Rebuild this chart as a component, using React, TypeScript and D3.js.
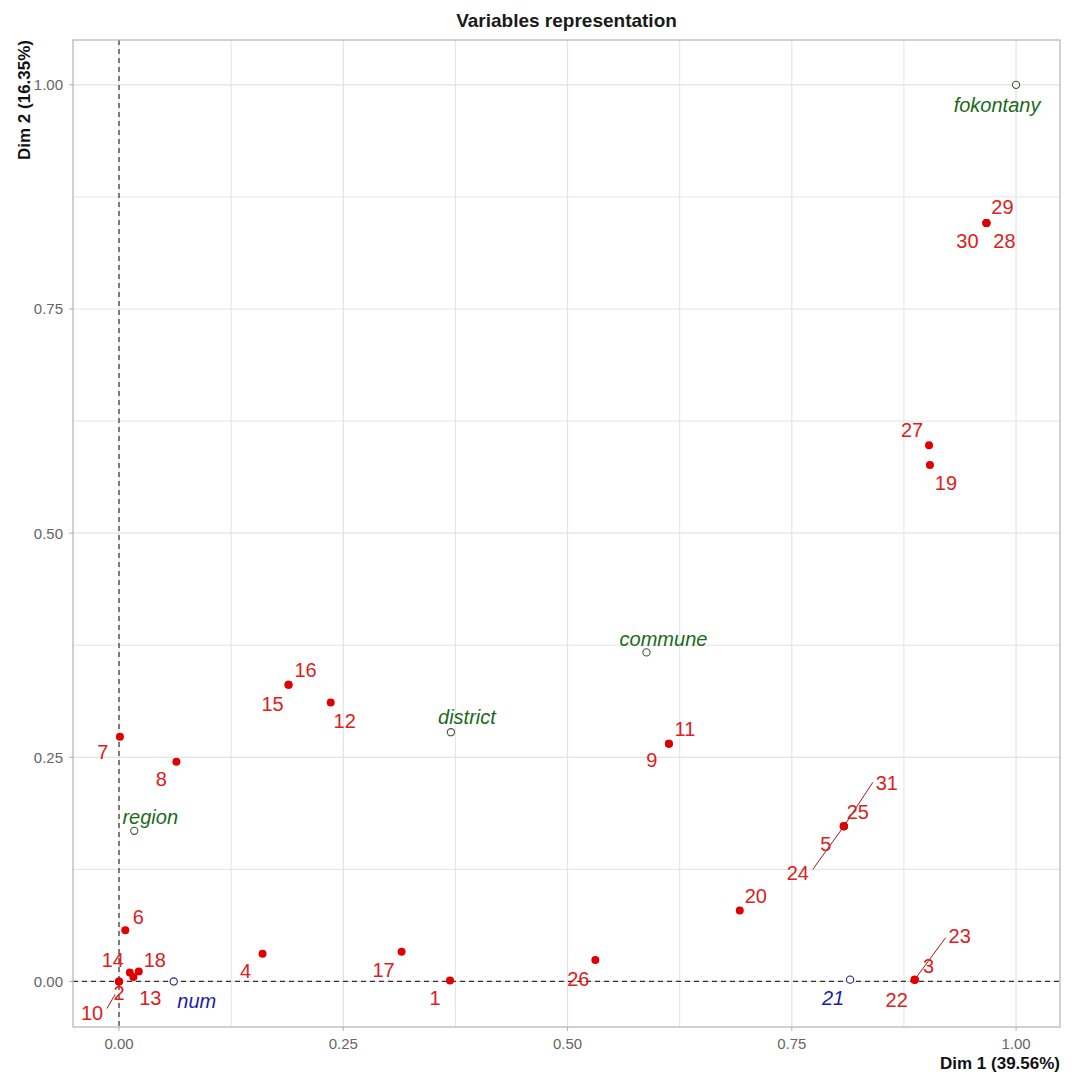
import React from "react";
import * as d3 from "d3";

// individuals (active), drawn as red dots
const indNames = ["1", "2", "3", "4", "5", "6", "7", "8", "9", "10", "11", "12", "13", "14", "15", "16", "17", "18", "19", "20", "22", "23", "24", "25", "26", "27", "28", "29", "30", "31"];
const indDim1 = [0.369, 0, 0.887, 0.160, 0.808, 0.007, 0.001, 0.064, 0.613, 0, 0.613, 0.236, 0.016, 0.012, 0.189, 0.189, 0.315, 0.022, 0.904, 0.692, 0.887, 0.887, 0.808, 0.808, 0.531, 0.903, 0.967, 0.967, 0.967, 0.808];
const indDim2 = [0.001, 0, 0.002, 0.031, 0.173, 0.057, 0.273, 0.245, 0.265, 0, 0.265, 0.311, 0.005, 0.010, 0.331, 0.331, 0.033, 0.011, 0.576, 0.079, 0.002, 0.002, 0.173, 0.173, 0.024, 0.598, 0.846, 0.846, 0.846, 0.173];

// variables (open circles)
const varNames = ["fokontany", "commune", "district", "region", "num", "21"];
const varDim1 = [1.0, 0.588, 0.370, 0.017, 0.061, 0.815];
const varDim2 = [1.0, 0.367, 0.278, 0.168, 0.0, 0.002];
const varGroup = ["qual", "qual", "qual", "qual", "quanti", "quanti"];

const xTicks = [0, 0.25, 0.5, 0.75, 1];
const yTicks = [0, 0.25, 0.5, 0.75, 1];
const minorTicks = [0.125, 0.375, 0.625, 0.875];

// repel offsets (px) for labels, [dx, dy] plus optional segment [x1, y1, x2, y2]
const indLabelPos: Record<string, number[]> = {
  "1": [-15, 17], "2": [0, 11], "3": [14, -14], "4": [-17, 17], "5": [-18, 17],
  "6": [13, -14], "7": [-17, 15], "8": [-15, 17], "9": [-17, 16],
  "10": [-27, 31, -4, 13, -12, 27], "11": [16, -15], "12": [14, 18], "13": [17, 21],
  "14": [-17, -13], "15": [-16, 19], "16": [17, -15], "17": [-18, 18], "18": [16, -12],
  "19": [16, 18], "20": [16, -15], "22": [-18, 20], "23": [45, -44, 0, 0, 31, -42],
  "24": [-46, 46, 0, 0, -31, 43], "25": [14, -15], "26": [-17, 19], "27": [-17, -15],
  "28": [18, 18], "29": [16, -16], "30": [-19, 18], "31": [43, -44, 0, 0, 29, -44],
};
const varLabelPos: Record<string, number[]> = {
  fokontany: [-19, 20], commune: [17, -14], district: [16, -15],
  region: [16, -14], num: [23, 19], "21": [-17, 18],
};

const W = 1075;
const H = 1076;
const panel = { left: 73, right: 1060, top: 40, bottom: 1027 };
const font = "'Liberation Sans', Arial, sans-serif";

const App = () => {
  const x = d3.scaleLinear().domain([-0.0513, 1.049]).range([panel.left, panel.right]);
  const y = d3.scaleLinear().domain([-0.0508, 1.05]).range([panel.bottom, panel.top]);

  const grid = "#e3e3e3";
  const red = "#e10000";
  const redText = "#dd2020";

  return (
    <svg width={W} height={H} style={{ position: "absolute", left: 0, top: 0, background: "#fff" }} fontFamily={font}>
      <rect x={0} y={0} width={W} height={H} fill="#fff" />

      {/* grid */}
      {minorTicks.map((t) => (
        <g key={"m" + t}>
          <line x1={x(t)} x2={x(t)} y1={panel.top} y2={panel.bottom} stroke={grid} strokeWidth={1} />
          <line x1={panel.left} x2={panel.right} y1={y(t)} y2={y(t)} stroke={grid} strokeWidth={1} />
        </g>
      ))}
      {xTicks.map((t) => (
        <line key={"gx" + t} x1={x(t)} x2={x(t)} y1={panel.top} y2={panel.bottom} stroke={grid} strokeWidth={1.2} />
      ))}
      {yTicks.map((t) => (
        <line key={"gy" + t} x1={panel.left} x2={panel.right} y1={y(t)} y2={y(t)} stroke={grid} strokeWidth={1.2} />
      ))}

      {/* zero lines */}
      <line x1={x(0)} x2={x(0)} y1={panel.top} y2={panel.bottom} stroke="#333" strokeWidth={1.2} strokeDasharray="5,4" />
      <line x1={panel.left} x2={panel.right} y1={y(0)} y2={y(0)} stroke="#333" strokeWidth={1.2} strokeDasharray="5,4" />

      {/* segments */}
      {indNames.map((n, i) => {
        const p = indLabelPos[n];
        if (!p || p.length < 6) return null;
        const px = x(indDim1[i]);
        const py = y(indDim2[i]);
        return <line key={"s" + n} x1={px + p[2]} y1={py + p[3]} x2={px + p[4]} y2={py + p[5]} stroke="#a01818" strokeWidth={1} />;
      })}

      {/* individuals */}
      {indNames.map((n, i) => (
        <circle key={"p" + n} cx={x(indDim1[i])} cy={y(indDim2[i])} r={4} fill={red} />
      ))}
      {indNames.map((n, i) => {
        const p = indLabelPos[n];
        return (
          <text key={"t" + n} x={x(indDim1[i]) + p[0]} y={y(indDim2[i]) + p[1]} dy="0.36em" textAnchor="middle" fontSize={20} fill={redText}>
            {n}
          </text>
        );
      })}

      {/* variables */}
      {varNames.map((n, i) => (
        <circle key={"v" + n} cx={x(varDim1[i])} cy={y(varDim2[i])} r={3.6} fill="#fff"
          stroke={varGroup[i] === "qual" ? "#3a5a3a" : "#22228f"} strokeWidth={1.1} />
      ))}
      {varNames.map((n, i) => {
        const p = varLabelPos[n];
        return (
          <text key={"vt" + n} x={x(varDim1[i]) + p[0]} y={y(varDim2[i]) + p[1]} dy="0.36em" textAnchor="middle" fontSize={20}
            fontStyle="italic" fill={varGroup[i] === "qual" ? "#1a6a1a" : "#1c1ca8"}>
            {n}
          </text>
        );
      })}

      {/* panel border */}
      <rect x={panel.left} y={panel.top} width={panel.right - panel.left} height={panel.bottom - panel.top} fill="none" stroke="#b3b3b3" strokeWidth={1.2} />

      {/* axes */}
      {xTicks.map((t) => (
        <g key={"xt" + t}>
          <line x1={x(t)} x2={x(t)} y1={panel.bottom} y2={panel.bottom + 4} stroke="#b3b3b3" />
          <text x={x(t)} y={1044} dy="0.36em" textAnchor="middle" fontSize={15} fill="#666">{d3.format(".2f")(t)}</text>
        </g>
      ))}
      {yTicks.map((t) => (
        <g key={"yt" + t}>
          <line x1={panel.left - 4} x2={panel.left} y1={y(t)} y2={y(t)} stroke="#b3b3b3" />
          <text x={63} y={y(t)} dy="0.36em" textAnchor="end" fontSize={15} fill="#666">{d3.format(".2f")(t)}</text>
        </g>
      ))}

      <text x={(panel.left + panel.right) / 2} y={27} textAnchor="middle" fontSize={19} fontWeight="bold" fill="#1a1a1a">
        Variables representation
      </text>
      <text x={panel.right} y={1063} dy="0.36em" textAnchor="end" fontSize={17} fontWeight="bold" fill="#111">
        Dim 1 (39.56%)
      </text>
      <text transform={`translate(24, ${panel.top}) rotate(-90)`} dy="0.36em" textAnchor="end" fontSize={17} fontWeight="bold" fill="#111">
        Dim 2 (16.35%)
      </text>
    </svg>
  );
};

export default App;
